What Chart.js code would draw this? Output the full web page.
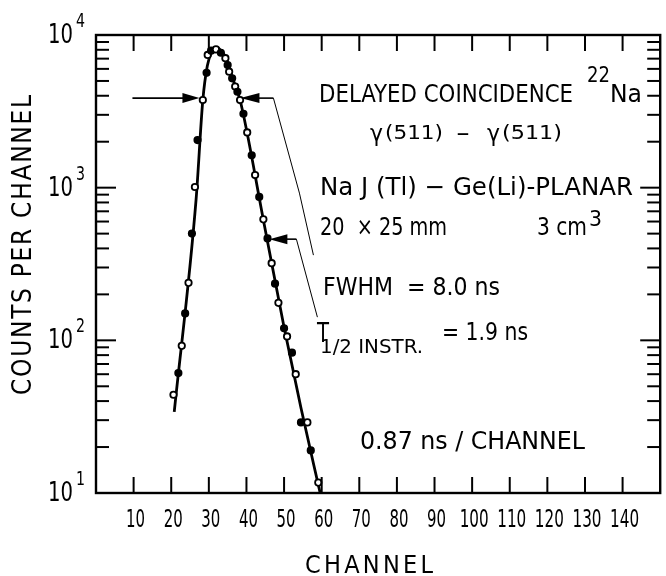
<!DOCTYPE html>
<html>
<head>
<meta charset="utf-8">
<script src="https://cdn.jsdelivr.net/npm/chart.js@4.4.0/dist/chart.umd.min.js"></script>
<style>
  html, body { margin: 0; padding: 0; background: #fff; }
</style>
</head>
<body>
<canvas id="decayChart" width="666" height="576"></canvas>
<script>
// measured points (channel, counts per channel)
const channels = [20.6, 21.9, 22.8, 23.7, 24.6, 25.5, 26.3, 27.0, 28.4, 29.4, 29.7, 30.6, 31.9, 33.2, 34.4, 35.0, 35.4, 36.2, 37.0, 37.6, 38.3, 39.2, 40.2, 41.4, 42.3, 43.4, 44.5, 45.6, 46.7, 47.6, 48.5, 50.0, 50.8, 52.1, 53.1, 54.5, 56.2, 57.1, 59.1];
const counts = [44, 61, 92, 150, 238, 500, 1010, 2050, 3750, 5650, 7400, 7900, 8050, 7650, 7050, 6350, 5750, 5200, 4600, 4250, 3750, 3050, 2300, 1630, 1210, 870, 620, 465, 320, 235, 176, 120, 106, 83, 60, 29, 29, 19, 11.7];

// drawn curve through the points
const fitChannels = [20.8, 26.6, 28.4, 29.6, 30.8, 32.0, 33.3, 34.6, 36.2, 38.3, 44.5, 50.0, 54.5, 59.6];
const fitCounts = [34, 831, 3750, 6300, 7800, 8250, 7900, 7000, 5300, 3750, 615, 122, 36, 10];

// axis ticks
const xTickValues = [10, 20, 30, 40, 50, 60, 70, 80, 90, 100, 110, 120, 130, 140];
const yDecades = [10, 100, 1000, 10000];
const yExponents = ["1", "2", "3", "4"];

// arrow markers (FWHM level and the lower-slope marker)
const fwhmCount = 3860;
const fwhmLeftChannel = 27.5;
const fwhmRightChannel = 38.4;
const slopeArrowChannel = 46.1;
const slopeArrowCount = 460;

const FONT = '"DejaVu Sans Condensed", "Liberation Sans Narrow", "Liberation Sans", sans-serif';

function setFont(ctx, size) {
  ctx.font = size + "px " + FONT;
}

// draw text squeezed/stretched to a given width
function fitText(ctx, str, x, y, size, width) {
  setFont(ctx, size);
  const w = ctx.measureText(str).width;
  ctx.save();
  ctx.translate(x, y);
  ctx.scale(width / w, 1);
  ctx.textAlign = "left";
  ctx.fillText(str, 0, 0);
  ctx.restore();
}

// draw text with letters spread out over a given width
function spacedText(ctx, str, x, y, size, width) {
  setFont(ctx, size);
  const widths = [...str].map(ch => ctx.measureText(ch).width);
  const total = widths.reduce((a, b) => a + b, 0);
  const gap = (width - total) / (str.length - 1);
  let cx = x;
  ctx.textAlign = "left";
  [...str].forEach((ch, i) => {
    ctx.fillText(ch, cx, y);
    cx += widths[i] + gap;
  });
}

function line(ctx, x1, y1, x2, y2) {
  ctx.beginPath();
  ctx.moveTo(x1, y1);
  ctx.lineTo(x2, y2);
  ctx.stroke();
}

function arrowHead(ctx, tipX, y, dir, len, half) {
  ctx.beginPath();
  ctx.moveTo(tipX, y);
  ctx.lineTo(tipX - dir * len, y - half);
  ctx.lineTo(tipX - dir * len, y + half);
  ctx.closePath();
  ctx.fill();
}

const paperPlugin = {
  id: "paperFrame",
  afterDraw(chart) {
    const ctx = chart.ctx;
    const xs = chart.scales.x;
    const ys = chart.scales.y;
    const a = chart.chartArea;
    ctx.save();
    ctx.strokeStyle = "#000";
    ctx.fillStyle = "#000";
    ctx.textBaseline = "alphabetic";

    // frame
    ctx.lineWidth = 2.4;
    ctx.strokeRect(a.left, a.top, a.right - a.left, a.bottom - a.top);

    // inward ticks on top and bottom, labels below
    ctx.lineWidth = 2;
    xTickValues.forEach(v => {
      const px = xs.getPixelForValue(v);
      line(ctx, px, a.bottom, px, a.bottom - 16);
      line(ctx, px, a.top, px, a.top + 16);
      const label = String(v);
      const w = label.length === 3 ? 29 : 19;
      fitText(ctx, label, px + 2 - w / 2, 527, 25, w);
    });

    // inward log ticks on left and right
    for (let d = 10; d < 10000; d *= 10) {
      for (let m = 1; m <= 9; m++) {
        const v = d * m;
        if (v === 10) continue;
        const py = ys.getPixelForValue(v);
        const len = m === 1 ? 20 : 13;
        line(ctx, a.left, py, a.left + len, py);
        line(ctx, a.right, py, a.right - len, py);
      }
    }

    // y labels 10^n
    yDecades.forEach((v, i) => {
      const py = ys.getPixelForValue(v);
      fitText(ctx, "10", 48, py + 8, 26, 25);
      fitText(ctx, yExponents[i], 76, py - 8, 19, 9);
    });

    // axis titles
    ctx.save();
    ctx.translate(31, 245);
    ctx.rotate(-Math.PI / 2);
    spacedText(ctx, "COUNTS PER CHANNEL", -150, 0, 26, 300);
    ctx.restore();
    spacedText(ctx, "CHANNEL", 305, 573, 25, 128);

    // FWHM arrows
    const yF = ys.getPixelForValue(fwhmCount);
    const xL = xs.getPixelForValue(fwhmLeftChannel);
    const xR = xs.getPixelForValue(fwhmRightChannel);
    ctx.lineWidth = 1.6;
    line(ctx, xL - 67, yF, xL - 10, yF);
    arrowHead(ctx, xL, yF, 1, 17, 5);
    line(ctx, xR + 10, yF, xR + 33, yF);
    arrowHead(ctx, xR, yF, -1, 19, 5);

    // lower slope arrow
    const yS = ys.getPixelForValue(slopeArrowCount);
    const xS = xs.getPixelForValue(slopeArrowChannel);
    line(ctx, xS + 10, yS, xS + 27, yS);
    arrowHead(ctx, xS, yS, -1, 18, 5);

    // thin leader lines
    ctx.lineWidth = 1;
    ctx.beginPath();
    ctx.moveTo(xR + 33, yF);
    ctx.lineTo(xR + 59, yF + 95);
    ctx.lineTo(xR + 73, yF + 157);
    ctx.stroke();
    ctx.beginPath();
    ctx.moveTo(xS + 27, yS);
    ctx.lineTo(xS + 48, yS + 78);
    ctx.stroke();

    // text block
    fitText(ctx, "DELAYED COINCIDENCE", 319, 102, 25, 254);
    fitText(ctx, "22", 587, 82, 22, 23);
    fitText(ctx, "Na", 610, 102, 25, 32);

    fitText(ctx, "γ", 370, 141, 23, 13);
    fitText(ctx, "(511)", 385, 139, 20, 58);
    fitText(ctx, "−", 456, 141, 22, 14);
    fitText(ctx, "γ", 487, 141, 23, 13);
    fitText(ctx, "(511)", 502, 139, 20, 60);

    fitText(ctx, "Na J (Tl) − Ge(Li)-PLANAR", 320, 195, 25, 313);
    fitText(ctx, "20  × 25 mm", 320, 235, 25, 127);
    fitText(ctx, "3 cm", 537, 235, 25, 50);
    fitText(ctx, "3", 589, 226, 21, 13);

    fitText(ctx, "FWHM  = 8.0 ns", 323, 295, 25, 177);
    fitText(ctx, "T", 317, 342, 26, 12);
    fitText(ctx, "1/2 INSTR.", 320, 353, 20, 103);
    fitText(ctx, "= 1.9 ns", 442, 340, 24, 86);

    fitText(ctx, "0.87 ns / CHANNEL", 360, 449, 25, 225);

    ctx.restore();
  }
};

const ctx = document.getElementById("decayChart").getContext("2d");
new Chart(ctx, {
  type: "line",
  data: {
    datasets: [
      {
        label: "counts",
        data: channels.map((c, i) => ({ x: c, y: counts[i] })),
        showLine: false,
        pointRadius: 3.2,
        pointBorderWidth: 1.8,
        pointBorderColor: "#000",
        pointBackgroundColor: c => (c.dataIndex % 2 === 0 ? "#fff" : "#000"),
        order: 0,
      },
      {
        label: "fit",
        data: fitChannels.map((c, i) => ({ x: c, y: fitCounts[i] })),
        borderColor: "#000",
        borderWidth: 2.8,
        pointRadius: 0,
        cubicInterpolationMode: "monotone",
        fill: false,
        order: 1,
      },
    ],
  },
  options: {
    responsive: false,
    animation: false,
    devicePixelRatio: 1,
    layout: { padding: { left: 96, right: 4, top: 35, bottom: 0 } },
    plugins: {
      legend: { display: false },
      tooltip: { enabled: false },
    },
    scales: {
      x: {
        type: "linear",
        min: 0,
        max: 150,
        grid: { display: false, drawTicks: false },
        border: { display: false },
        ticks: { stepSize: 10, display: false },
        afterFit: s => { s.height = 83; },
      },
      y: {
        type: "logarithmic",
        min: 10,
        max: 10000,
        display: false,
      },
    },
  },
  plugins: [paperPlugin],
});
</script>
</body>
</html>
